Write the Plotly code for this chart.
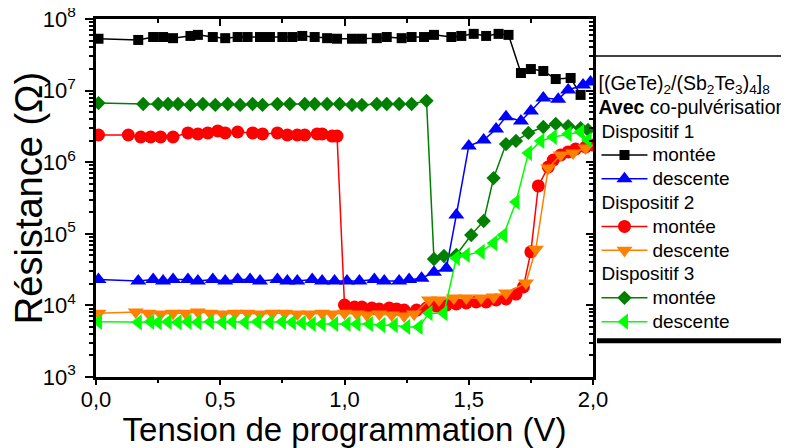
import plotly.graph_objects as go

# ---------------- data ----------------
# Dispositif 1 - montée
d1_up_v = [0.01, 0.17, 0.23, 0.27, 0.31, 0.38, 0.41, 0.47, 0.52, 0.57, 0.61, 0.66, 0.70, 0.75, 0.79,
           0.83, 0.88, 0.93, 0.97, 1.03, 1.07, 1.13, 1.17, 1.23, 1.27, 1.32, 1.36, 1.43, 1.47, 1.52,
           1.57, 1.62, 1.66, 1.71, 1.75, 1.80, 1.85, 1.91, 1.95]
d1_up_r = [5.3e7, 5.1e7, 5.6e7, 5.6e7, 5.4e7, 5.8e7, 6.0e7, 5.6e7, 5.4e7, 5.6e7, 5.6e7, 5.6e7, 5.6e7,
           5.6e7, 5.6e7, 5.8e7, 5.6e7, 5.4e7, 5.3e7, 5.3e7, 5.3e7, 5.4e7, 5.6e7, 5.4e7, 5.6e7, 5.6e7,
           6.0e7, 5.6e7, 5.8e7, 6.2e7, 5.8e7, 6.2e7, 6.0e7, 1.76e7, 2.0e7, 1.88e7, 1.45e7, 1.5e7, 8.7e6]

# Dispositif 1 - descente
d1_dn_v = [0.01, 0.17, 0.23, 0.27, 0.31, 0.37, 0.41, 0.47, 0.52, 0.57, 0.62, 0.66, 0.73, 0.77, 0.81,
           0.87, 0.91, 0.96, 1.01, 1.06, 1.12, 1.16, 1.22, 1.26, 1.31, 1.36, 1.41, 1.45, 1.50, 1.56,
           1.61, 1.65, 1.71, 1.75, 1.80, 1.86, 1.90, 1.96, 1.99]
d1_dn_r = [2.3e4, 2.2e4, 2.3e4, 2.2e4, 2.3e4, 2.3e4, 2.2e4, 2.3e4, 2.2e4, 2.3e4, 2.3e4, 2.2e4, 2.3e4,
           2.2e4, 2.2e4, 2.3e4, 2.2e4, 2.2e4, 2.2e4, 2.2e4, 2.3e4, 2.2e4, 2.2e4, 2.3e4, 2.4e4, 2.9e4,
           3.3e4, 1.83e5, 1.68e6, 2.04e6, 2.9e6, 4.3e6, 3.76e6, 5.2e6, 7.9e6, 7.6e6, 1.02e7, 1.2e7, 1.32e7]

# Dispositif 2 - montée
d2_up_v = [0.01, 0.13, 0.18, 0.22, 0.26, 0.31, 0.37, 0.41, 0.45, 0.49, 0.52, 0.57, 0.63, 0.67, 0.73,
           0.77, 0.81, 0.84, 0.89, 0.91, 0.95, 0.97,
           1.00, 1.04, 1.07, 1.11, 1.14, 1.18, 1.21, 1.24, 1.29, 1.33, 1.37, 1.41, 1.45, 1.49, 1.53,
           1.57, 1.61, 1.65, 1.69, 1.72, 1.75, 1.78, 1.82, 1.84, 1.87, 1.90, 1.93, 1.97, 2.00]
d2_up_r = [2.4e6, 2.4e6, 2.25e6, 2.25e6, 2.25e6, 2.25e6, 2.56e6, 2.48e6, 2.56e6, 2.73e6, 2.56e6, 2.64e6,
           2.56e6, 2.48e6, 2.56e6, 2.4e6, 2.4e6, 2.4e6, 2.48e6, 2.48e6, 2.32e6, 2.32e6,
           1.01e4, 9.5e3, 9.5e3, 9.2e3, 8.9e3, 9.2e3, 8.9e3, 8.6e3, 8.6e3, 9.2e3, 9.8e3, 1.01e4, 1.05e4,
           1.08e4, 1.12e4, 1.12e4, 1.19e4, 1.23e4, 1.44e4, 1.81e4, 5.6e4, 4.66e5, 8.6e5, 1.07e6, 1.26e6,
           1.39e6, 1.53e6, 1.63e6, 1.74e6]

# Dispositif 2 - descente
d2_dn_v = [0.01, 0.16, 0.21, 0.26, 0.31, 0.36, 0.41, 0.46, 0.51, 0.56, 0.61, 0.66, 0.71, 0.76, 0.81,
           0.86, 0.91, 0.95, 1.00, 1.05, 1.09, 1.14, 1.19, 1.24, 1.28, 1.34, 1.38, 1.44, 1.49, 1.55,
           1.60, 1.65, 1.73, 1.77, 1.82, 1.87, 1.92, 1.97]
d2_dn_r = [7.8e3, 8.1e3, 7.8e3, 7.6e3, 7.8e3, 7.8e3, 8.1e3, 7.8e3, 7.6e3, 7.8e3, 7.8e3, 7.6e3, 7.8e3,
           7.8e3, 7.6e3, 7.6e3, 7.8e3, 7.6e3, 7.8e3, 7.6e3, 7.35e3, 7.6e3, 7.35e3, 7.1e3, 7.6e3, 1.19e4,
           1.19e4, 1.27e4, 1.27e4, 1.27e4, 1.31e4, 1.49e4, 2.06e4, 6.1e4, 8.3e5, 1.26e6, 1.34e6, 1.58e6]

# Dispositif 3 - montée
d3_up_v = [0.01, 0.19, 0.25, 0.29, 0.33, 0.38, 0.43, 0.48, 0.53, 0.58, 0.63, 0.67, 0.73, 0.78, 0.84,
           0.88, 0.93, 0.98, 1.03, 1.07, 1.13, 1.17, 1.22, 1.27, 1.33, 1.36, 1.40, 1.45, 1.51, 1.56,
           1.60, 1.65, 1.69, 1.74, 1.80, 1.85, 1.90, 1.95, 1.98]
d3_up_r = [6.7e6, 6.5e6, 6.5e6, 6.5e6, 6.5e6, 6.3e6, 6.5e6, 6.3e6, 6.5e6, 6.3e6, 6.5e6, 6.3e6, 6.5e6,
           6.5e6, 6.5e6, 6.5e6, 6.5e6, 6.5e6, 6.3e6, 6.3e6, 6.5e6, 6.5e6, 6.5e6, 6.5e6, 7.2e6, 4.45e4,
           4.9e4, 5.06e4, 9.6e4, 1.51e5, 6.0e5, 1.79e6, 1.98e6, 2.56e6, 3.1e6, 3.42e6, 3.2e6, 3.0e6, 2.82e6]

# Dispositif 3 - descente
d3_dn_v = [0.01, 0.17, 0.22, 0.25, 0.29, 0.33, 0.37, 0.41, 0.46, 0.51, 0.55, 0.60, 0.65, 0.70, 0.75,
           0.79, 0.83, 0.87, 0.91, 0.96, 1.01, 1.05, 1.10, 1.15, 1.20, 1.25, 1.30, 1.34, 1.40, 1.45,
           1.49, 1.55, 1.60, 1.64, 1.69, 1.74, 1.79, 1.84, 1.90, 1.95, 1.98]
d3_dn_r = [5.9e3, 5.8e3, 5.9e3, 5.8e3, 5.9e3, 5.8e3, 5.9e3, 5.8e3, 5.9e3, 5.8e3, 5.9e3, 5.8e3, 5.9e3,
           5.8e3, 5.9e3, 5.8e3, 5.7e3, 5.5e3, 5.5e3, 5.5e3, 5.5e3, 5.5e3, 5.5e3, 5.3e3, 5.3e3, 5.0e3,
           5.0e3, 7.8e3, 7.8e3, 4.6e4, 5.06e4, 5.6e4, 7.4e4, 9.6e4, 2.78e5, 1.34e6, 1.98e6, 2.25e6,
           2.48e6, 2.64e6, 2.04e6]

x_tickvals = [0.0, 0.5, 1.0, 1.5, 2.0]
x_ticktext = ["0,0", "0,5", "1,0", "1,5", "2,0"]
y_tickvals = [1e3, 1e4, 1e5, 1e6, 1e7, 1e8]
y_ticktext = ["10<sup>3</sup>", "10<sup>4</sup>", "10<sup>5</sup>", "10<sup>6</sup>",
              "10<sup>7</sup>", "10<sup>8</sup>"]

FONT = "Liberation Sans, Arial, sans-serif"


def big(t, px=19):
    return '<span style="font-size:%spx">%s</span>' % (px, t)


series = [
    # x, y, name, group, group title, color, symbol, size
    (d1_up_v, d1_up_r, "montée", "g1", "Dispositif 1", "#000000", "square", 10),
    (d1_dn_v, d1_dn_r, "descente", "g1", "Dispositif 1", "#0000FF", "triangle-up", 14),
    (d2_up_v, d2_up_r, "montée", "g2", "Dispositif 2", "#FF0000", "circle", 13),
    (d2_dn_v, d2_dn_r, "descente", "g2", "Dispositif 2", "#FF7F00", "triangle-down", 14),
    (d3_up_v, d3_up_r, "montée", "g3", "Dispositif 3", "#007F00", "diamond", 11),
    (d3_dn_v, d3_dn_r, "descente", "g3", "Dispositif 3", "#00FF00", "triangle-left", 14),
]

fig = go.Figure()
for xv, yv, name, grp, gtitle, col, sym, sz in series:
    fig.add_trace(go.Scatter(
        x=xv, y=yv, name=big(name), mode="lines+markers",
        legendgroup=grp,
        legendgrouptitle=dict(text=big(gtitle), font=dict(family=FONT, size=16, color="black")),
        line=dict(color=col, width=1.5),
        marker=dict(symbol=sym, size=sz, color=col, line=dict(width=0)),
    ))

# empty trace carrying the mirrored (inward) top/right tick axes
fig.add_trace(go.Scatter(x=[], y=[], xaxis="x2", yaxis="y2", showlegend=False, hoverinfo="skip"))

axis_font = dict(family=FONT, size=22, color="black")

# the page body adds an 8 px offset, so the figure is 8 px smaller than the window
fig.update_layout(
    width=781, height=440,
    margin=dict(l=88, r=196, t=11, b=71, autoexpand=False),
    paper_bgcolor="white", plot_bgcolor="white",
    font=dict(family=FONT, color="black"),
    showlegend=True,
    legend=dict(
        x=1.007, y=0.868, xanchor="left", yanchor="top",
        bgcolor="rgba(0,0,0,0)", borderwidth=0,
        font=dict(family=FONT, size=16, color="black"),
        title=dict(text=big("[(GeTe)<sub>2</sub>/(Sb<sub>2</sub>Te<sub>3</sub>)<sub>4</sub>]<sub>8</sub>", 19.5) + "<br>"
                        + big("<b>Avec</b> co-pulvérisation", 19.5),
                   font=dict(family=FONT, size=18.5, color="black"), side="top"),
        tracegroupgap=0, traceorder="grouped", itemwidth=46,
    ),
    xaxis=dict(
        range=[0, 2.0], tickvals=x_tickvals, ticktext=x_ticktext,
        ticks="outside", ticklen=5, tickwidth=2, tickcolor="black",
        minor=dict(dtick=0.25, ticks="outside", ticklen=3, tickwidth=1.5, tickcolor="black", showgrid=False),
        showline=True, linewidth=2.5, linecolor="black", mirror=True,
        showgrid=False, zeroline=False, tickfont=axis_font, ticklabelstandoff=-4,
        title=dict(text="Tension de programmation (V)", font=dict(family=FONT, size=33, color="black"),
                   standoff=13),
    ),
    yaxis=dict(
        type="log", range=[3, 8], tickvals=y_tickvals, ticktext=y_ticktext,
        ticks="outside", ticklen=8, tickwidth=2, tickcolor="black",
        minor=dict(dtick="D1", ticks="outside", ticklen=4, tickwidth=1.5, tickcolor="black", showgrid=False),
        showline=True, linewidth=2.5, linecolor="black", mirror=True,
        showgrid=False, zeroline=False, tickfont=axis_font, ticklabelstandoff=5,
        ticklabeloverflow="allow",
        title=dict(text="Résistance (Ω)", font=dict(family=FONT, size=38, color="black"), standoff=0),
    ),
    xaxis2=dict(
        overlaying="x", side="top", anchor="y", range=[0, 2.0], tickvals=x_tickvals,
        showticklabels=False, ticks="inside", ticklen=7, tickwidth=2, tickcolor="black",
        minor=dict(dtick=0.25, ticks="inside", ticklen=4, tickwidth=1.5, tickcolor="black", showgrid=False),
        showline=False, showgrid=False, zeroline=False,
    ),
    yaxis2=dict(
        type="log", overlaying="y", side="right", anchor="x", range=[3, 8], tickvals=y_tickvals,
        showticklabels=False, ticks="inside", ticklen=7, tickwidth=2, tickcolor="black",
        minor=dict(dtick="D1", ticks="inside", ticklen=4, tickwidth=1.5, tickcolor="black", showgrid=False),
        showline=False, showgrid=False, zeroline=False,
    ),
    shapes=[
        # legend frame: thin top, left edge and thick (shadow) bottom
        dict(type="line", xref="paper", yref="paper", x0=1.0, x1=1.4, y0=0.8966, y1=0.8966,
             line=dict(color="black", width=1.5)),
        dict(type="line", xref="paper", yref="paper", x0=1.002, x1=1.002, y0=0.8966, y1=0.105,
             line=dict(color="black", width=1.2)),
        dict(type="line", xref="paper", yref="paper", x0=1.008, x1=1.4, y0=0.101, y1=0.101,
             line=dict(color="black", width=5)),
    ],
)

fig.write_html("out.html")
